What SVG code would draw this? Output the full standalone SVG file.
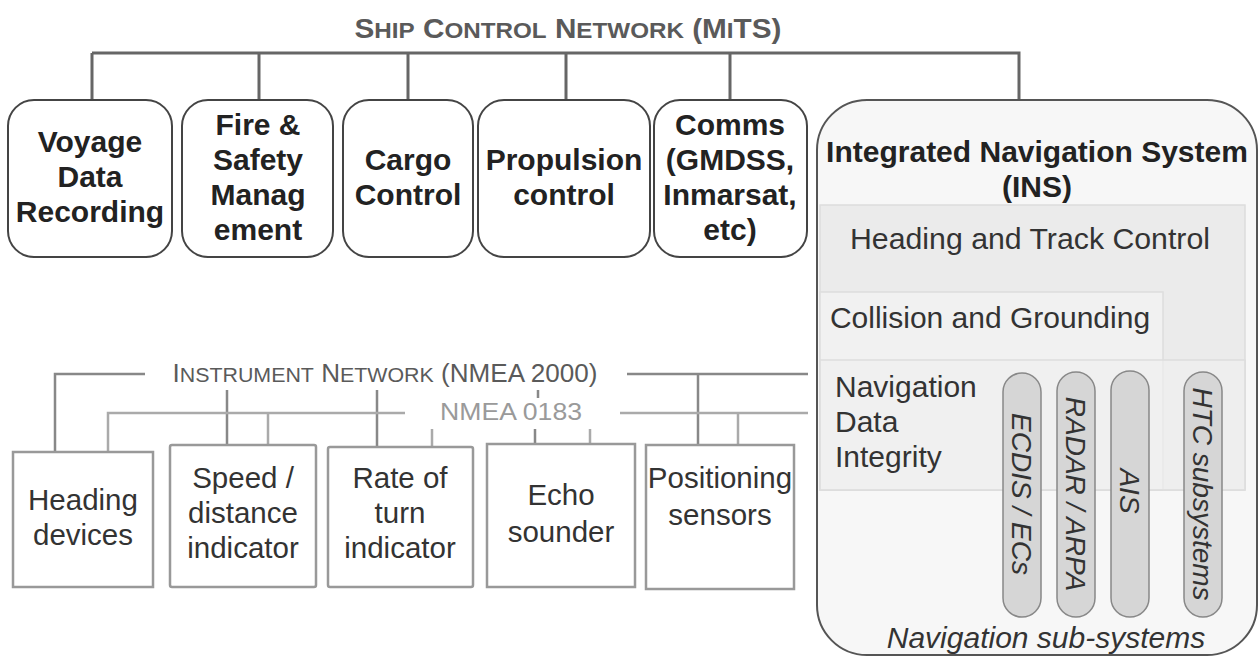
<svg xmlns="http://www.w3.org/2000/svg" width="1259" height="659" viewBox="0 0 1259 659">
  <style>
    .bus { fill: none; stroke: #666; stroke-width: 3; }
    .n2k { fill: none; stroke: #888; stroke-width: 2.5; }
    .n0183 { fill: none; stroke: #aaa; stroke-width: 2.5; }
    .sys { fill: #fff; stroke: #444; stroke-width: 2; }
    .sysText { font-family: "Liberation Sans", Arial, sans-serif; font-weight: bold; font-size: 30px; fill: #222; text-anchor: middle; }
    .inst { fill: #fff; stroke: #999; stroke-width: 2.5; }
    .instText { font-family: "Liberation Sans", Arial, sans-serif; font-size: 29.5px; fill: #333; text-anchor: middle; }
    .netLabel { font-family: "Liberation Sans", Arial, sans-serif; fill: #5a5a5a; text-anchor: middle; }
    .region { font-family: "Liberation Sans", Arial, sans-serif; font-size: 30px; fill: #333; }
    .pill { fill: #d6d6d6; stroke: #888; stroke-width: 1.5; }
    .pillText { font-family: "Liberation Sans", Arial, sans-serif; font-style: italic; font-size: 28px; fill: #333; text-anchor: middle; }
  </style>

  <rect width="1259" height="659" fill="#fff"/>

  <!-- Network labels, set in hand-made small capitals -->
  <text class="netLabel" x="568" y="38" font-size="27" font-weight="bold" fill="#666" textLength="427" lengthAdjust="spacingAndGlyphs"><tspan>S</tspan><tspan font-size="22">HIP</tspan> <tspan>C</tspan><tspan font-size="22">ONTROL</tspan> <tspan>N</tspan><tspan font-size="22">ETWORK</tspan> (<tspan>M</tspan><tspan font-size="22">I</tspan><tspan>TS</tspan>)</text>
  <text class="netLabel" x="385" y="382" font-size="25" fill="#666" textLength="425" lengthAdjust="spacingAndGlyphs"><tspan>I</tspan><tspan font-size="20.5">NSTRUMENT</tspan> <tspan>N</tspan><tspan font-size="20.5">ETWORK</tspan> (NMEA 2000)</text>
  <text x="511" y="420" font-family="Liberation Sans, Arial, sans-serif" font-size="24" fill="#9a9a9a" text-anchor="middle" textLength="142" lengthAdjust="spacingAndGlyphs">NMEA 0183</text>

  <g id="connectors">
    <!-- Ship control network bus -->
    <path class="bus" d="M92 53 H1019 V100 M92 53 V100 M259 53 V100 M408 53 V100 M566 53 V100 M730 53 V100"/>
    <!-- Instrument network (NMEA 2000) -->
    <path class="n2k" d="M55 452 V374 H145 M627 374 H808 M698 374 V447 M227 390 V445 M377 390 V447 M538 390 V398 M535 429 V444"/>
    <!-- NMEA 0183 -->
    <path class="n0183" d="M108 452 V413 H405 M268 413 V445 M620 413 H808 M738 413 V447 M432 429 V447 M590 429 V444"/>
  </g>

  <!-- Ship systems -->
  <g id="voyage-data-recording">
    <rect class="sys" x="8" y="100" width="164" height="157" rx="26"/>
    <text class="sysText" x="90" y="152">Voyage</text>
    <text class="sysText" x="90" y="187">Data</text>
    <text class="sysText" x="90" y="222">Recording</text>
  </g>
  <g id="fire-safety">
    <rect class="sys" x="182" y="100" width="151" height="157" rx="26"/>
    <text class="sysText" x="258" y="135">Fire &amp;</text>
    <text class="sysText" x="258" y="170">Safety</text>
    <text class="sysText" x="258" y="205">Manag</text>
    <text class="sysText" x="258" y="240">ement</text>
  </g>
  <g id="cargo-control">
    <rect class="sys" x="343" y="100" width="130" height="157" rx="26"/>
    <text class="sysText" x="408" y="170">Cargo</text>
    <text class="sysText" x="408" y="205">Control</text>
  </g>
  <g id="propulsion-control">
    <rect class="sys" x="478" y="100" width="172" height="157" rx="26"/>
    <text class="sysText" x="564" y="170">Propulsion</text>
    <text class="sysText" x="564" y="205">control</text>
  </g>
  <g id="comms">
    <rect class="sys" x="654" y="100" width="153" height="157" rx="26"/>
    <text class="sysText" x="730" y="135">Comms</text>
    <text class="sysText" x="730" y="170">(GMDSS,</text>
    <text class="sysText" x="730" y="205">Inmarsat,</text>
    <text class="sysText" x="730" y="240">etc)</text>
  </g>

  <!-- Integrated navigation system -->
  <g id="ins">
    <rect x="817" y="100" width="440" height="555" rx="50" fill="#f7f7f7" stroke="#555" stroke-width="2"/>
    <text class="sysText" x="1037" y="162">Integrated Navigation System</text>
    <text class="sysText" x="1037" y="197">(INS)</text>
    <rect x="820" y="205" width="425" height="285" fill="#ebebeb" stroke="#ddd" stroke-width="1.5"/>
    <text class="region" x="1030" y="249" text-anchor="middle" textLength="360" lengthAdjust="spacingAndGlyphs">Heading and Track Control</text>
    <rect x="820" y="292" width="343" height="198" fill="#f1f1f1" stroke="#ddd" stroke-width="1.5"/>
    <text class="region" x="990" y="328" text-anchor="middle">Collision and Grounding</text>
    <rect x="820" y="360" width="425" height="130" fill="#f0f0f0" fill-opacity="0.6" stroke="#ddd" stroke-width="1.5"/>
    <text class="region" x="835" y="397">Navigation</text>
    <text class="region" x="835" y="432">Data</text>
    <text class="region" x="835" y="467">Integrity</text>

    <g id="ecdis">
      <rect class="pill" x="1003" y="373" width="38" height="244" rx="19"/>
      <text class="pillText" transform="translate(1022 494) rotate(90)" y="10">ECDIS / ECs</text>
    </g>
    <g id="radar">
      <rect class="pill" x="1057" y="372" width="38" height="245" rx="19"/>
      <text class="pillText" transform="translate(1076 494) rotate(90)" y="10">RADAR / ARPA</text>
    </g>
    <g id="ais">
      <rect class="pill" x="1111" y="371" width="38" height="246" rx="19"/>
      <text class="pillText" transform="translate(1130 491) rotate(90)" y="10">AIS</text>
    </g>
    <g id="htc-subsystems">
      <rect class="pill" x="1184" y="372" width="38" height="245" rx="19"/>
      <text class="pillText" transform="translate(1203 494) rotate(90)" y="10">HTC subsystems</text>
    </g>
    <text x="1046" y="648" font-family="Liberation Sans, Arial, sans-serif" font-style="italic" font-size="30" fill="#333" text-anchor="middle">Navigation sub-systems</text>
  </g>

  <!-- Instruments -->
  <g id="heading-devices">
    <rect class="inst" x="13" y="452" width="140" height="135"/>
    <text class="instText" x="83" y="510">Heading</text>
    <text class="instText" x="83" y="545">devices</text>
  </g>
  <g id="speed-distance">
    <rect class="inst" x="170" y="445" width="146" height="142" rx="2"/>
    <text class="instText" x="243" y="488">Speed /</text>
    <text class="instText" x="243" y="523">distance</text>
    <text class="instText" x="243" y="558">indicator</text>
  </g>
  <g id="rate-of-turn">
    <rect class="inst" x="328" y="447" width="145" height="140" rx="2"/>
    <text class="instText" x="400" y="488">Rate of</text>
    <text class="instText" x="400" y="523">turn</text>
    <text class="instText" x="400" y="558">indicator</text>
  </g>
  <g id="echo-sounder">
    <rect class="inst" x="487" y="444" width="148" height="143"/>
    <text class="instText" x="561" y="505">Echo</text>
    <text class="instText" x="561" y="542">sounder</text>
  </g>
  <g id="positioning-sensors">
    <rect class="inst" x="646" y="445" width="148" height="144"/>
    <text class="instText" x="720" y="488">Positioning</text>
    <text class="instText" x="720" y="525">sensors</text>
  </g>
</svg>
